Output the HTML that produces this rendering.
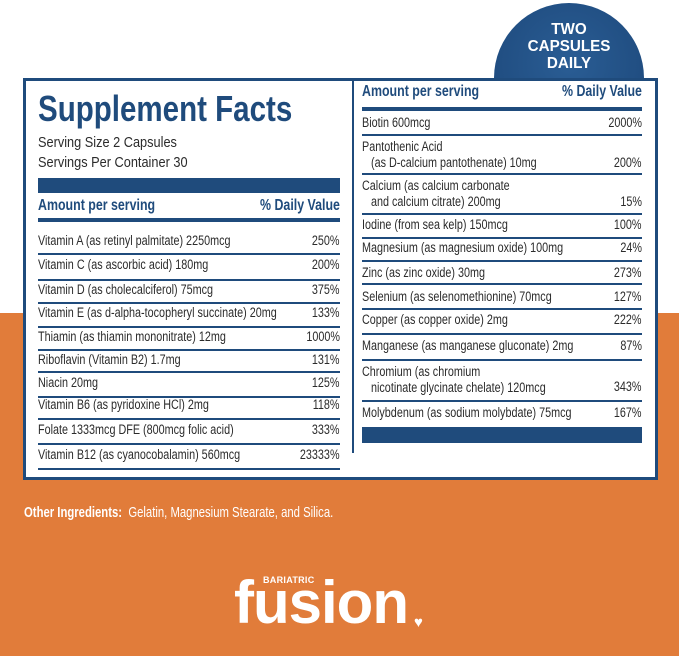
<!DOCTYPE html>
<html><head><meta charset="utf-8"><style>
body{margin:0;width:679px;height:656px;position:relative;overflow:hidden;background:#fff;font-family:"Liberation Sans",sans-serif;color:#2a2a2a}
.or{position:absolute;left:0;top:313px;width:679px;height:343px;background:#e17c3a}
.badge{position:absolute;left:494px;top:3px;width:150px;height:150px;border-radius:50%;background:radial-gradient(circle at 50% 40%,#2a5d94,#1b4577);}
.bt{position:absolute;left:494px;width:150px;text-align:center;color:#fff;font-weight:bold;font-size:16px;line-height:17px;top:21px;transform:scaleX(.95)}
.box{position:absolute;left:23px;top:78px;width:629px;height:396px;border:3px solid #1f4b7c;background:#fff}
.vd{position:absolute;left:352px;top:81px;width:1.5px;height:372px;background:#1f4b7c}
.t{position:absolute;font-size:13.5px;white-space:nowrap;line-height:16px;transform:scaleX(.8);transform-origin:left center;color:#2b2b2b}
.r{transform-origin:right center;text-align:right}
.h{font-weight:bold;color:#1f4b7c;font-size:15.5px;transform:scaleX(.8)}
.rule{position:absolute;height:1.5px;background:#1f4b7c}
.bar{position:absolute;background:#1f4b7c}
</style></head><body>
<div class="or"></div>
<div class="badge"></div>
<div class="bt">TWO<br>CAPSULES<br>DAILY</div>
<div class="box"></div>
<div class="vd"></div>
<div class="t h" style="left:38px;top:90px;font-size:36px;line-height:38px;transform:scaleX(.82)">Supplement Facts</div>
<div class="t" style="left:38px;top:135px;font-size:15px;transform:scaleX(.85)">Serving Size 2 Capsules</div>
<div class="t" style="left:38px;top:155px;font-size:15px;transform:scaleX(.85)">Servings Per Container 30</div>
<div class="bar" style="left:38px;top:178px;width:302px;height:15px"></div>
<div class="t h" style="left:38px;top:198px">Amount per serving</div>
<div class="t h r" style="right:339px;top:198px">% Daily Value</div>
<div class="bar" style="left:38px;top:218px;width:302px;height:4px"></div>
<div class="t h" style="left:362px;top:84px">Amount per serving</div>
<div class="t h r" style="right:37px;top:84px">% Daily Value</div>
<div class="bar" style="left:362px;top:107px;width:280px;height:4px"></div>
<div class="bar" style="left:362px;top:427px;width:280px;height:16px"></div>
<div id="c"></div>
<div class="t" style="left:24px;top:505px;color:#fff;font-size:14.5px;transform:scaleX(.78)"><b>Other Ingredients:</b>&nbsp; Gelatin, Magnesium Stearate, and Silica.</div>
<div style="position:absolute;left:263px;top:575px;color:#fff;font-weight:bold;font-size:9px;letter-spacing:.3px">BARIATRIC</div>
<div style="position:absolute;left:234px;top:572px;color:#fff;font-weight:bold;font-size:60px;line-height:62px;letter-spacing:-1px">fusion</div>
<div style="position:absolute;left:414px;top:614px;color:#fff;font-size:15px">♥</div>
<script>
var L=[["Vitamin A (as retinyl palmitate) 2250mcg","250%",241,253],["Vitamin C (as ascorbic acid) 180mg","200%",265,279],["Vitamin D (as cholecalciferol) 75mcg","375%",290,302],["Vitamin E (as d-alpha-tocopheryl succinate) 20mg","133%",313,326],["Thiamin (as thiamin mononitrate) 12mg","1000%",337,349],["Riboflavin (Vitamin B2) 1.7mg","131%",360,371],["Niacin 20mg","125%",383,396],["Vitamin B6 (as pyridoxine HCl) 2mg","118%",405,418],["Folate 1333mcg DFE (800mcg folic acid)","333%",430,443],["Vitamin B12 (as cyanocobalamin) 560mcg","23333%",455,468]];
var R=[["Biotin 600mcg","2000%",123,134],["Pantothenic Acid<br>&nbsp;&nbsp;&nbsp;(as D-calcium pantothenate) 10mg","200%",155,173,163],["Calcium (as calcium carbonate<br>&nbsp;&nbsp;&nbsp;and calcium citrate) 200mg","15%",194,213,202],["Iodine (from sea kelp) 150mcg","100%",225,237],["Magnesium (as magnesium oxide) 100mg","24%",248,260],["Zinc (as zinc oxide) 30mg","273%",273,283],["Selenium (as selenomethionine) 70mcg","127%",297,308],["Copper (as copper oxide) 2mg","222%",320,333],["Manganese (as manganese gluconate) 2mg","87%",346,359],["Chromium (as chromium<br>&nbsp;&nbsp;&nbsp;nicotinate glycinate chelate) 120mcg","343%",380,400,387],["Molybdenum (as sodium molybdate) 75mcg","167%",413,null]];
var h="";
function add(a,x,rt,w){a.forEach(function(e){var two=e[0].indexOf("<br>")>0;var top=two?e[2]-16:e[2]-8;h+='<div class="t" style="left:'+x+'px;top:'+top+'px">'+e[0]+'</div>';var pt=(e[4]||e[2])-8;h+='<div class="t r" style="right:'+rt+'px;top:'+pt+'px">'+e[1]+'</div>';if(e[3])h+='<div class="rule" style="left:'+x+'px;top:'+e[3]+'px;width:'+w+'px"></div>';});}
add(L,38,339,302);add(R,362,37,280);
document.getElementById("c").innerHTML=h;
</script>
</body></html>
